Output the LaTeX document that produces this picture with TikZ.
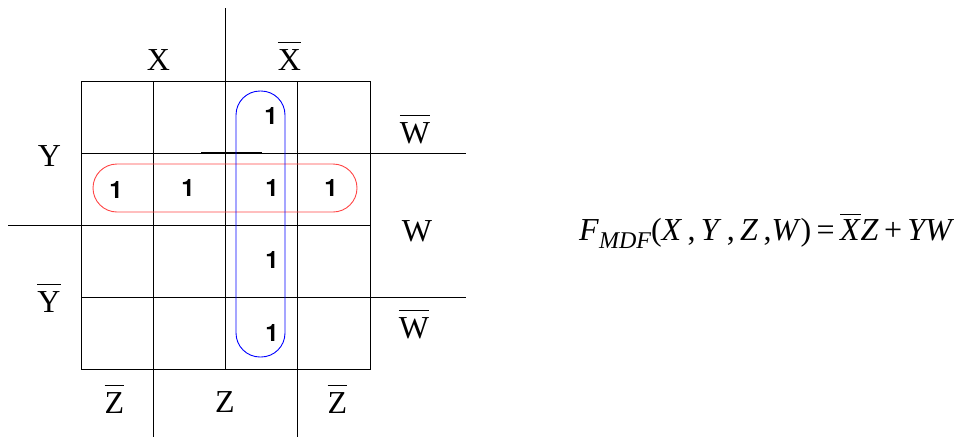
\documentclass[tikz,border=0pt]{standalone}
\usepackage{fontspec}
\setmainfont{Liberation Serif}
\newfontfamily\onesfont[BoldFont={TeX Gyre Heros Bold}]{TeX Gyre Heros}
\newcommand\barred[2][6.5pt]{\vbox{\hrule height 0.9pt\kern#1\hbox{#2}}}
\definecolor{loopred}{RGB}{255,70,70}
\begin{document}
\begin{tikzpicture}[x=1pt,y=-1pt,
  gridline/.style={line width=0.9pt,black},
  lbl/.style={anchor=base,inner sep=0pt,font=\fontsize{32}{36}\selectfont},
  one/.style={anchor=base,inner sep=0pt,font=\onesfont\bfseries\fontsize{24}{28}\selectfont},
  loopline/.style={line width=0.9pt,rounded corners=24pt}]
\useasboundingbox (0,0) rectangle (962,437);
% grid
\draw[gridline] (81,81) rectangle (370,369);
\draw[gridline] (153,81) -- (153,437);
\draw[gridline] (225,8) -- (225,369);
\draw[gridline] (297,81) -- (297,437);
\draw[gridline] (81,153) -- (466,153);
\draw[gridline] (8,225) -- (370,225);
\draw[gridline] (81,297) -- (466,297);
\draw[line width=1.8pt] (201,153) -- (262,153);
% loops
\draw[loopline,loopred] (93,164) rectangle (357,212);
\draw[loopline,blue] (236,91) rectangle (285,357);
% ones
\node[one] (o1) at (271,124) {1};
\node[one] (o2) at (116,198) {1};
\node[one] (o3) at (188,196) {1};
\node[one] (o4) at (272,196) {1};
\node[one] (o5) at (331,196) {1};
\node[one] (o6) at (272,268) {1};
\node[one] (o7) at (272,341) {1};
% labels
\node[lbl] (lx) at (158.5,70) {X};
\node[lbl] (lxb) at (289.5,70) {\barred{X}};
\node[lbl] (ly) at (49.5,166) {Y};
\node[lbl] (lyb) at (49,312) {\barred{Y}};
\node[lbl] (lw1) at (415,143) {\barred{W}};
\node[lbl] (lw) at (417,241) {W};
\node[lbl] (lw2) at (414,338) {\barred{W}};
\node[lbl] (lz1) at (114.5,413) {\barred{Z}};
\node[lbl] (lz) at (225,412) {Z};
\node[lbl] (lz2) at (337.5,413) {\barred{Z}};
% formula
\node[anchor=base west,inner sep=0pt,font=\fontsize{32}{36}\selectfont] (f) at (579,240)
  {\textit{F}\raisebox{-8pt}{\fontsize{24}{28}\selectfont\itshape MDF}(\textit{X}\,,\,\textit{Y}\,,\,\textit{Z}\,,\textit{W\/})\,=\,\barred[4pt]{\textit{X}}\textit{Z}\,+\,\textit{YW}};
\end{tikzpicture}
\end{document}
